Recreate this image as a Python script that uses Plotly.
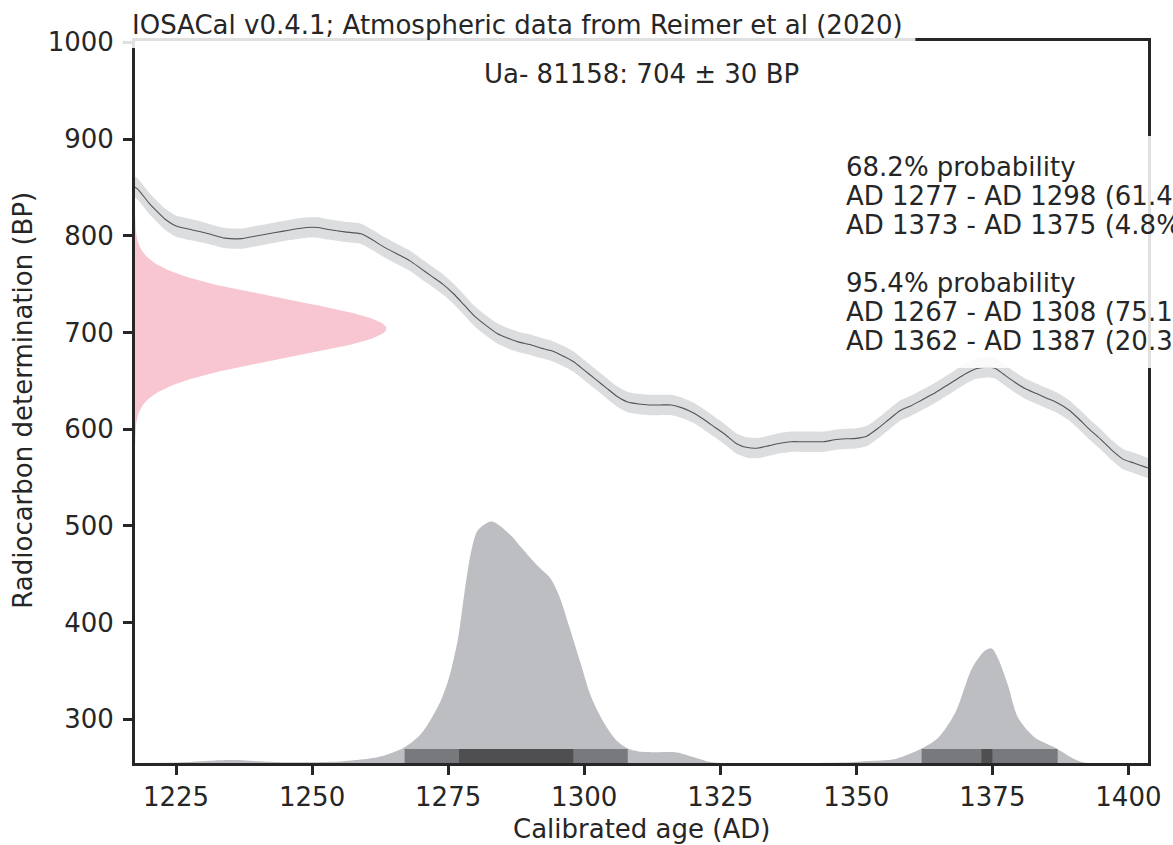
import numpy as np
import plotly.graph_objects as go

# ---- calibration curve (IntCal20 segment): calendar year AD, radiocarbon age BP, 1-sigma
curve_year = [1217, 1218, 1220, 1221, 1223, 1225, 1228, 1231, 1234, 1237, 1240, 1243, 1246,
              1249, 1251, 1253, 1256, 1259, 1261, 1263, 1266, 1268, 1270, 1272, 1274, 1276,
              1278, 1280, 1282, 1284, 1286, 1288, 1290, 1292, 1294, 1296, 1298, 1300, 1302,
              1304, 1306, 1308, 1310, 1312, 1314, 1316, 1318, 1320, 1322, 1324, 1326, 1328,
              1330, 1332, 1334, 1336, 1338, 1340, 1342, 1344, 1346, 1348, 1350, 1352, 1354,
              1356, 1358, 1360, 1362, 1364, 1366, 1368, 1370, 1372, 1374, 1375.5, 1377, 1379,
              1381, 1383, 1385, 1387, 1389, 1391, 1393, 1395, 1397, 1399, 1401, 1403, 1405]
curve_bp = [852, 848, 834, 828, 817, 810, 806, 802, 797.5, 797, 800, 803, 806,
            808.5, 808.5, 806.5, 804, 802, 796, 789, 780, 774, 766, 758, 750, 740,
            728, 716, 707, 699, 694, 690, 687.5, 684, 681, 676, 670, 661, 652,
            643, 634, 628, 626, 625, 625, 625, 622, 617, 610, 602, 594, 585,
            581, 580.5, 583, 585.5, 587, 587, 587, 587, 589, 590, 590.5, 593, 601,
            610, 619, 624, 630, 636, 643, 650, 657, 662.5, 664, 663, 657, 649,
            642, 637, 632, 627, 620, 610, 599, 589, 578, 569, 565, 561, 557]
curve_sigma = [11, 11, 11, 11, 11, 11, 11, 10.5, 10.5, 10.5, 10.5, 10.5, 10.5,
               10.5, 10.5, 10.5, 10.5, 10.5, 10.5, 10.5, 10.5, 10.5, 10.5, 10.5, 10.5, 10.5,
               10.5, 10.5, 10.5, 10.5, 10.5, 10.5, 10.5, 10.5, 10.5, 10.5, 10.5, 10.5, 10.5,
               10.5, 10.5, 10.5, 10.5, 10.5, 10.5, 10.5, 10.5, 10.5, 10.5, 10.5, 10.5, 10.5,
               10.5, 10.5, 10.5, 10.5, 10.5, 10.5, 10.5, 10.5, 10.5, 10.5, 10.5, 10.5, 10.5,
               10.5, 10.5, 10.5, 10.5, 10.5, 10.5, 10.5, 10.5, 10.5, 10.5, 10.5, 10.5, 10.5,
               10.5, 10.5, 10.5, 10.5, 10.5, 10.5, 10.5, 10.5, 10.5, 10.5, 10.5, 10.5, 10.5]

# ---- calibrated probability, relative to its maximum
cal_year = [1217, 1225, 1229, 1233, 1236, 1240, 1245, 1250, 1255, 1258, 1262, 1265, 1267,
            1270, 1273.2, 1275, 1276.8, 1278, 1279.2, 1280.4, 1282.6, 1283.6, 1286.6, 1288.4,
            1291.4, 1293.9, 1295.4, 1297.2, 1299.3, 1301.2, 1303.6, 1306, 1307.9, 1310, 1313,
            1317, 1320, 1323, 1325, 1340, 1348, 1352, 1357.2, 1362.1, 1365.1, 1368.2, 1371.2,
            1373.6, 1374.9, 1376.1, 1377.9, 1379.7, 1382.8, 1386.4, 1390, 1392.5, 1405]
cal_prob = [0.0, 0.002, 0.006, 0.011, 0.012, 0.007, 0.003, 0.003, 0.006, 0.012, 0.024, 0.045,
            0.065, 0.12, 0.237, 0.341, 0.514, 0.707, 0.873, 0.963, 1.0, 0.997, 0.942, 0.894,
            0.818, 0.762, 0.693, 0.569, 0.417, 0.279, 0.168, 0.092, 0.061, 0.048, 0.045,
            0.044, 0.025, 0.005, 0.0, 0.0, 0.002, 0.008, 0.017, 0.061, 0.106, 0.209, 0.39,
            0.465, 0.475, 0.431, 0.32, 0.189, 0.106, 0.065, 0.017, 0.0, 0.0]

# ---- highest probability density ranges
hpd68_start = [1277, 1373]
hpd68_end = [1298, 1375]
hpd68_pct = [61.4, 4.8]
hpd95_start = [1267, 1362]
hpd95_end = [1308, 1387]
hpd95_pct = [75.1, 20.3]

# ---- radiocarbon determination
lab_id = "Ua- 81158"
c14_age = 704
c14_sd = 30

# ---- axes
x_range = [1217.46, 1403.6]
y_range = [254.81, 1001.34]
x_ticks = [1225, 1250, 1275, 1300, 1325, 1350, 1375, 1400]
y_ticks = [300, 400, 500, 600, 700, 800, 900, 1000]

W, H = 1173, 845
ML, MR, MT, MB = 135, 19, 41, 82
PW, PH = W - ML - MR, H - MT - MB

INK = "#262626"
FONT = "DejaVu Sans"
FS = 26


def px_x(p):
    return (p - ML) / PW


def px_y(p):
    return (MT + PH - p) / PH


fig = go.Figure()

# calibrated distribution, scaled up from the bottom of the axis
cal_scale = 249.5
fig.add_trace(go.Scatter(
    x=cal_year, y=[y_range[0] + p * cal_scale for p in cal_prob],
    mode="lines", line=dict(width=0, shape="spline", smoothing=0.8), fill="tozeroy",
    fillcolor="#bdbec2", hoverinfo="skip", showlegend=False))


def range_boxes(starts, ends, height):
    xs, ys = [], []
    for a, b in zip(starts, ends):
        xs += [a, b, b, a, a, None]
        ys += [y_range[0] - 5, y_range[0] - 5, y_range[0] + height, y_range[0] + height,
               y_range[0] - 5, None]
    return xs, ys


# HPD range bars (95.4% lighter, 68.2% darker)
bar_h = 14.5
bx, by = range_boxes(hpd95_start, hpd95_end, bar_h)
fig.add_trace(go.Scatter(x=bx, y=by, mode="lines", line=dict(width=0), fill="toself",
                         fillcolor="#78797d", hoverinfo="skip", showlegend=False))
bx, by = range_boxes(hpd68_start, hpd68_end, bar_h)
fig.add_trace(go.Scatter(x=bx, y=by, mode="lines", line=dict(width=0), fill="toself",
                         fillcolor="#4f4f52", hoverinfo="skip", showlegend=False))

# radiocarbon determination as a normal curve lying on the y axis
bp_grid = np.linspace(c14_age - 4 * c14_sd, c14_age + 4 * c14_sd, 241)
pdf = np.exp(-0.5 * ((bp_grid - c14_age) / c14_sd) ** 2)
pink_width = 46.2
fig.add_trace(go.Scatter(
    x=x_range[0] + pdf * pink_width, y=bp_grid, mode="lines", line=dict(width=0),
    fill="tozerox", fillcolor="#f8c6d0", hoverinfo="skip", showlegend=False))

# calibration curve band and centre line
cy = np.array(curve_year, dtype=float)
cb = np.array(curve_bp, dtype=float)
cs = np.array(curve_sigma, dtype=float)
fig.add_trace(go.Scatter(
    x=cy, y=cb + cs, mode="lines", line=dict(width=0, shape="spline", smoothing=0.6),
    hoverinfo="skip", showlegend=False))
fig.add_trace(go.Scatter(
    x=cy, y=cb - cs, mode="lines", line=dict(width=0, shape="spline", smoothing=0.6),
    fill="tonexty", fillcolor="#dcdddf", hoverinfo="skip", showlegend=False))
fig.add_trace(go.Scatter(
    x=cy, y=cb, mode="lines", line=dict(color="#555555", width=1.1, shape="spline", smoothing=0.6),
    hoverinfo="skip", showlegend=False))

axis_common = dict(
    showline=True, linecolor=INK, linewidth=3, mirror=True,
    ticks="outside", ticklen=9, tickwidth=2.7, tickcolor=INK,
    showgrid=False, zeroline=False,
    tickfont=dict(family=FONT, size=FS, color=INK),
)
fig.update_xaxes(range=x_range, tickvals=x_ticks, **axis_common)
fig.update_yaxes(range=y_range, tickvals=y_ticks, ticklabelstandoff=4, **axis_common)

# white translucent boxes behind the title and the HPD text
box_fill = "rgba(255,255,255,0.86)"
fig.add_shape(type="rect", xref="paper", yref="paper",
              x0=px_x(123), x1=px_x(920), y0=px_y(48), y1=px_y(-5),
              fillcolor=box_fill, line=dict(width=0), layer="above")
fig.add_shape(type="rect", xref="paper", yref="paper",
              x0=px_x(841), x1=px_x(1200), y0=px_y(368), y1=px_y(136),
              fillcolor=box_fill, line=dict(width=0), layer="above")

annotations = []


def label(text, x, y, xanchor="left", size=FS, angle=0):
    annotations.append(dict(
        text=text, x=px_x(x), y=px_y(y), xref="paper", yref="paper",
        xanchor=xanchor, yanchor="middle", showarrow=False, textangle=angle,
        font=dict(family=FONT, size=size, color=INK)))


label("IOSACal v0.4.1; Atmospheric data from Reimer et al (2020)", 130, 24.5)
label(f"{lab_id}: {c14_age} ± {c14_sd} BP", 645, 74, xanchor="center")

hpd_lines = ["68.2% probability"]
hpd_lines += [f"AD {a} - AD {b} ({p}%)" for a, b, p in zip(hpd68_start, hpd68_end, hpd68_pct)]
hpd_lines += ["", "95.4% probability"]
hpd_lines += [f"AD {a} - AD {b} ({p}%)" for a, b, p in zip(hpd95_start, hpd95_end, hpd95_pct)]
for i, line in enumerate(hpd_lines):
    if line:
        label(line, 848.5, 167 + i * 29)

label("Calibrated age (AD)", 644, 829, xanchor="center")
label("Radiocarbon determination (BP)", 22, 400, xanchor="center", angle=-90)

fig.update_layout(
    width=W, height=H, autosize=False,
    margin=dict(l=ML, r=MR, t=MT, b=MB),
    paper_bgcolor="white", plot_bgcolor="white",
    annotations=annotations,
    font=dict(family=FONT, color=INK),
)

fig.write_html("out.html")
